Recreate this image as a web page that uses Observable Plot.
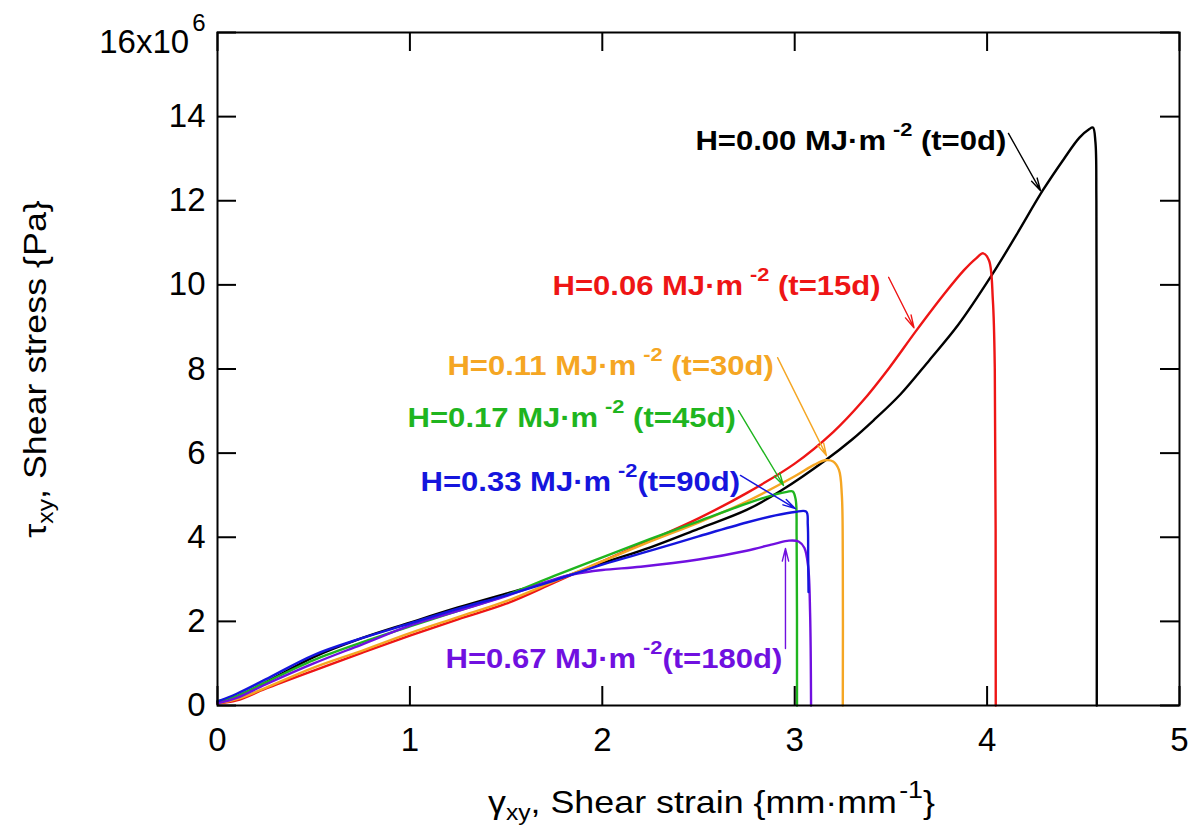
<!DOCTYPE html>
<html>
<head>
<meta charset="utf-8">
<script src="https://cdn.jsdelivr.net/npm/d3@7"></script>
<script src="https://cdn.jsdelivr.net/npm/@observablehq/plot@0.6"></script>
<style>
  html, body { margin: 0; padding: 0; background: #fff; }
  #chart { width: 1191px; height: 829px; }
</style>
</head>
<body>
<div id="chart"></div>
<script>
// ---------- DATA ----------
const xTicks = [0, 1, 2, 3, 4, 5];
const yTicks = [0, 2, 4, 6, 8, 10, 12, 14, 16];
const yTickLabels = ["0", "2", "4", "6", "8", "10", "12", "14", "16x10"];

// H = 0.00 MJ/m2 (t = 0 d)
const curveH000 = [[0,0.08],[0.1,0.22],[0.25,0.55],[0.5,1.15],[0.75,1.6],[1.0,1.97],[1.25,2.33],[1.5,2.66],[1.75,2.98],[2.0,3.38],[2.25,3.76],[2.5,4.2],[2.75,4.65],[2.93,5.11],[3.16,5.83],[3.3,6.33],[3.41,6.78],[3.55,7.4],[3.7,8.21],[3.85,9.05],[4.02,10.2],[4.15,11.17],[4.29,12.25],[4.4,13.0],[4.48,13.5],[4.53,13.7],[4.55,13.74],[4.563,13.4],[4.568,12.0],[4.57,0]];
// H = 0.06 (t = 15 d)
const curveH006 = [[0,0.05],[0.1,0.12],[0.25,0.4],[0.5,0.83],[0.75,1.25],[1.0,1.66],[1.25,2.05],[1.5,2.42],[1.75,2.92],[2.0,3.43],[2.25,3.93],[2.5,4.45],[2.75,5.05],[3.0,5.75],[3.2,6.5],[3.35,7.22],[3.49,8.02],[3.63,8.9],[3.78,9.8],[3.88,10.35],[3.94,10.62],[3.98,10.75],[4.01,10.58],[4.03,9.63],[4.04,8.0],[4.045,0]];
// H = 0.11 (t = 30 d)
const curveH011 = [[0,0.05],[0.1,0.15],[0.25,0.42],[0.5,0.9],[0.75,1.3],[1.0,1.72],[1.25,2.1],[1.5,2.48],[1.75,2.95],[2.0,3.43],[2.25,3.9],[2.5,4.35],[2.75,4.85],[3.0,5.45],[3.1,5.72],[3.16,5.83],[3.2,5.8],[3.23,5.6],[3.245,5.0],[3.25,3.5],[3.25,0]];
// H = 0.17 (t = 45 d)
const curveH017 = [[0,0.1],[0.1,0.22],[0.25,0.55],[0.5,1.08],[0.75,1.5],[1.0,1.88],[1.25,2.25],[1.5,2.62],[1.75,3.08],[2.0,3.52],[2.25,3.96],[2.5,4.38],[2.75,4.8],[2.9,5.02],[2.96,5.08],[2.99,5.09],[3.005,4.9],[3.01,4.0],[3.012,0]];
// H = 0.33 (t = 90 d)
const curveH033 = [[0,0.1],[0.1,0.28],[0.25,0.62],[0.5,1.2],[0.75,1.6],[1.0,1.95],[1.25,2.3],[1.5,2.62],[1.75,2.97],[2.0,3.35],[2.25,3.68],[2.5,4.02],[2.75,4.35],[2.9,4.52],[3.0,4.6],[3.06,4.61],[3.068,4.3],[3.07,3.5],[3.072,2.7]];
// H = 0.67 (t = 180 d)
const curveH067 = [[0,0.05],[0.1,0.18],[0.25,0.5],[0.5,1.0],[0.75,1.45],[1.0,1.9],[1.25,2.25],[1.5,2.6],[1.75,3.0],[1.85,3.12],[2.0,3.22],[2.2,3.3],[2.5,3.47],[2.75,3.68],[2.9,3.85],[2.97,3.92],[3.02,3.9],[3.05,3.75],[3.07,3.3],[3.08,2.2],[3.085,0]];

const seriesNames  = ["H000", "H006", "H011", "H017", "H067", "H033"];
const seriesColors = ["#000000", "#ee1515", "#f5a623", "#1fb51f", "#7010e0", "#1515dd"];
const seriesCurves = [curveH000, curveH006, curveH011, curveH017, curveH067, curveH033];

// annotations: text ("^...^" = superscript), anchor (start, baseline), arrow tail and head
const annotText  = ["H=0.00 MJ·m^-2^ (t=0d)", "H=0.06 MJ·m^-2^ (t=15d)", "H=0.11 MJ·m^-2^ (t=30d)", "H=0.17 MJ·m^-2^ (t=45d)", "H=0.67 MJ·m^-2^(t=180d)", "H=0.33 MJ·m^-2^(t=90d)"];
const annotX     = [2.484, 1.741, 1.195, 0.988, 1.185, 1.055];
const annotY     = [13.2, 9.77, 7.846, 6.61, 0.903, 5.11];
const arrowX1    = [4.111, 3.488, 2.911, 2.708, 2.952, 2.718];
const arrowY1    = [13.60, 10.18, 8.27, 7.01, 1.355, 5.47];
const arrowX2    = [4.278, 3.62, 3.165, 2.942, 2.952, 3.004];
const arrowY2    = [12.24, 8.98, 5.94, 5.23, 3.733, 4.68];

const xLabel = "γ_xy_, Shear strain {mm·mm^-1^}";
const yLabel = "τ_xy_, Shear stress {Pa}";

// ---------- LAYOUT ----------
const W = 1191, H = 829;
const mL = 217, mR = 12, mT = 32, mB = 124;
const innerW = W - mL - mR, innerH = H - mT - mB;
const tickLen = 19;
const FONT = "Arial, 'Liberation Sans', Arimo, sans-serif";

const rows = [];
seriesCurves.forEach((c, i) => c.forEach(([x, y]) => rows.push({series: seriesNames[i], x, y})));
const annots = annotText.map((t, i) => ({
  text: t, x: annotX[i], y: annotY[i], color: seriesColors[i],
  x1: arrowX1[i], y1: arrowY1[i], x2: arrowX2[i], y2: arrowY2[i]
}));
const yTickRows = yTicks.map((v, i) => ({v, label: yTickLabels[i]}));

const marks = [];
// curves
seriesNames.forEach((name, i) => {
  marks.push(Plot.line(rows.filter(r => r.series === name), {
    x: "x", y: "y", stroke: seriesColors[i], strokeWidth: 2.4, curve: "catmull-rom"
  }));
});
// arrows
annots.forEach(a => {
  marks.push(Plot.arrow([a], {x1: "x1", y1: "y1", x2: "x2", y2: "y2", stroke: a.color,
    strokeWidth: 1.4, headLength: 14, headAngle: 28}));
});
// annotation texts
annots.forEach(a => {
  marks.push(Plot.text([a], {x: "x", y: "y", text: "text", fill: a.color, fontSize: 27,
    fontWeight: "bold", textAnchor: "start", lineAnchor: "bottom"}));
});
// frame and inward ticks on all four sides
marks.push(Plot.frame({stroke: "#000", strokeWidth: 2}));
marks.push(Plot.tickX(xTicks, {x: d => d, stroke: "#000", strokeWidth: 2, insetTop: innerH - tickLen}));
marks.push(Plot.tickX(xTicks, {x: d => d, stroke: "#000", strokeWidth: 2, insetBottom: innerH - tickLen}));
marks.push(Plot.tickY(yTicks, {y: d => d, stroke: "#000", strokeWidth: 2, insetRight: innerW - tickLen}));
marks.push(Plot.tickY(yTicks, {y: d => d, stroke: "#000", strokeWidth: 2, insetLeft: innerW - tickLen}));
// tick labels
marks.push(Plot.text(xTicks, {x: d => d, text: d => String(d), frameAnchor: "bottom", dy: 22,
  lineAnchor: "top", fontSize: 33, fill: "#000"}));
marks.push(Plot.text(yTickRows.filter(d => d.v < 16), {y: "v", text: "label", frameAnchor: "left",
  textAnchor: "end", dx: -12, fontSize: 33, fill: "#000"}));
marks.push(Plot.text(yTickRows.filter(d => d.v === 16), {y: "v", text: "label", frameAnchor: "left",
  textAnchor: "end", dx: -12, dy: 20, lineAnchor: "bottom", fontSize: 33, fill: "#000"}));
// axis titles
marks.push(Plot.text([xLabel], {frameAnchor: "bottom", text: d => d, textAnchor: "middle", dx: 13, dy: 107,
  lineAnchor: "bottom", fontSize: 32, fill: "#000"}));
marks.push(Plot.text([yLabel], {frameAnchor: "left", text: d => d, textAnchor: "middle", rotate: -90, dx: -172,
  lineAnchor: "bottom", fontSize: 32, fill: "#000"}));

const svg = Plot.plot({
  width: W, height: H,
  marginLeft: mL, marginRight: mR, marginTop: mT, marginBottom: mB,
  style: {fontFamily: FONT, background: "#fff", overflow: "visible"},
  x: {domain: [0, 5], axis: null},
  y: {domain: [0, 16], axis: null},
  marks
});
document.getElementById("chart").appendChild(svg);

// ---------- rich text: sub/superscripts and horizontal stretch ----------
function richify(el, o) {
  const s = el.textContent;
  const parts = s.split(/(\^[^^]*\^|_[^_]*_)/).filter(p => p !== "");
  el.textContent = "";
  let shift = 0;
  for (const p of parts) {
    const ts = document.createElementNS("http://www.w3.org/2000/svg", "tspan");
    if (p[0] === "^" && p.length > 1) {
      ts.textContent = p.slice(1, -1);
      ts.setAttribute("font-size", o.supSize);
      ts.setAttribute("dy", (-o.supRaise - shift));
      if (o.supDx) ts.setAttribute("dx", o.supDx);
      shift = -o.supRaise;
    } else if (p[0] === "_" && p.length > 1) {
      ts.textContent = p.slice(1, -1);
      ts.setAttribute("font-size", o.subSize);
      ts.setAttribute("dy", (o.subDrop - shift));
      shift = o.subDrop;
    } else {
      ts.textContent = p;
      if (shift) ts.setAttribute("dy", -shift);
      shift = 0;
    }
    el.appendChild(ts);
  }
  if (o.sx) el.setAttribute("transform", (el.getAttribute("transform") || "") + ` scale(${o.sx},1)`);
}
svg.querySelectorAll("text").forEach(t => {
  const s = t.textContent;
  if (s.startsWith("H=")) {
    richify(t, {supSize: 19, supRaise: 14, supDx: 6, sx: 1.15});
  } else if (s.includes("Shear")) {
    richify(t, {supSize: 24, supRaise: 15, supDx: 2, subSize: 22, subDrop: 7, sx: 1.12});
  } else if (s === "16x10") {
    const ts = document.createElementNS("http://www.w3.org/2000/svg", "tspan");
    ts.textContent = "6";
    ts.setAttribute("font-size", 24);
    ts.setAttribute("dx", 3);
    ts.setAttribute("dy", -22);
    t.appendChild(ts);
  }
});
</script>
</body>
</html>
